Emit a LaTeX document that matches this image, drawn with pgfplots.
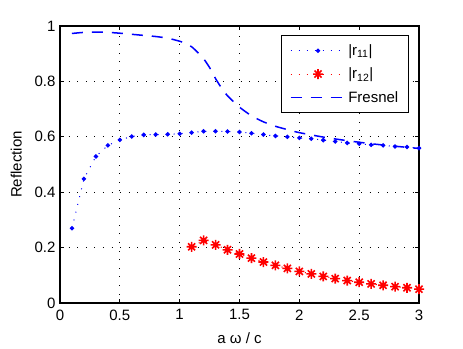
\documentclass[border=0pt]{standalone}
\usepackage{fontspec}
\setmainfont{Liberation Sans}
\usepackage{pgfplots}
\pgfplotsset{compat=1.18}

% MATLAB-style '*' marker: a plus and a cross on top of each other
\pgfdeclareplotmark{mstar}{%
  \pgfpathmoveto{\pgfqpoint{-\pgfplotmarksize}{0pt}}%
  \pgfpathlineto{\pgfqpoint{\pgfplotmarksize}{0pt}}%
  \pgfpathmoveto{\pgfqpoint{0pt}{-\pgfplotmarksize}}%
  \pgfpathlineto{\pgfqpoint{0pt}{\pgfplotmarksize}}%
  \pgfpathmoveto{\pgfqpoint{-0.707\pgfplotmarksize}{-0.707\pgfplotmarksize}}%
  \pgfpathlineto{\pgfqpoint{0.707\pgfplotmarksize}{0.707\pgfplotmarksize}}%
  \pgfpathmoveto{\pgfqpoint{-0.707\pgfplotmarksize}{0.707\pgfplotmarksize}}%
  \pgfpathlineto{\pgfqpoint{0.707\pgfplotmarksize}{-0.707\pgfplotmarksize}}%
  \pgfusepathqstroke}

\begin{document}
\begin{tikzpicture}
\begin{axis}[
    scale only axis,
    width=359pt, height=277pt,
    xmin=0, xmax=3, ymin=0, ymax=1,
    xtick={0,0.5,1,1.5,2,2.5,3},
    xticklabels={0,0.5,1,1.5,2,2.5,3},
    ytick={0,0.2,0.4,0.6,0.8,1},
    yticklabels={0,0.2,0.4,0.6,0.8,1},
    font=\fontsize{15}{17}\selectfont,
    xlabel={a ω / c},
    ylabel={Reflection},
    xlabel style={at={(axis description cs:0.5,-0.126)}, anchor=center},
    ylabel style={at={(axis description cs:-0.122,0.5)}, anchor=center},
    xticklabel style={yshift=-3pt},
    yticklabel style={xshift=-1pt},
    tick align=inside,
    major tick length=4pt,
    tick style={black, line width=0.7pt},
    axis line style={line width=1.3pt},
    grid=major,
    major grid style={black, line width=0.8pt, dash pattern=on 0.8pt off 7.8pt},
    legend cell align=left,
    legend style={at={(0.972,0.968)}, anchor=north east, draw=black,
        line width=1.3pt, font=\fontsize{15}{17}\selectfont,
        row sep=7pt, inner xsep=8pt, inner ysep=7pt},
    legend image code/.code={%
        \draw[mark repeat=2,mark phase=2,#1]
            plot coordinates {(0pt,0pt) (27.5pt,0pt) (55pt,0pt)};},
]

% |r11|
\addplot[blue, line width=1pt, dash pattern=on 1pt off 7pt,
    mark=*, mark size=1.7pt, mark options={solid, fill=blue}] coordinates {
    (0.1,0.270) (0.2,0.448) (0.3,0.529) (0.4,0.569) (0.5,0.589)
    (0.6,0.601) (0.7,0.607) (0.8,0.608) (0.9,0.609) (1.0,0.611)
    (1.1,0.615) (1.2,0.620) (1.3,0.620) (1.4,0.619) (1.5,0.617)
    (1.6,0.613) (1.7,0.608) (1.8,0.603) (1.9,0.600) (2.0,0.596)
    (2.1,0.593) (2.2,0.588) (2.3,0.583) (2.4,0.578) (2.5,0.575)
    (2.6,0.571) (2.7,0.569) (2.8,0.565) (2.9,0.563) (3.0,0.559)};
\addlegendentry{|r\textsubscript{11}|}

% |r12|
\addplot[red, line width=1pt, dash pattern=on 1pt off 7pt,
    mark=mstar, mark size=5pt, mark options={solid, line width=1.6pt}] coordinates {
    (1.1,0.203) (1.2,0.226) (1.3,0.210) (1.4,0.192) (1.5,0.177)
    (1.6,0.162) (1.7,0.148) (1.8,0.136) (1.9,0.125) (2.0,0.114)
    (2.1,0.105) (2.2,0.096) (2.3,0.088) (2.4,0.081) (2.5,0.075)
    (2.6,0.069) (2.7,0.064) (2.8,0.059) (2.9,0.055) (3.0,0.050)};
\addlegendentry{|r\textsubscript{12}|}

% Fresnel
\addplot[blue, line width=1.5pt, dash pattern=on 11pt off 9pt, smooth, tension=0.4] coordinates {
    (0.1,0.973) (0.2,0.977) (0.3,0.978) (0.4,0.977) (0.5,0.974)
    (0.6,0.970) (0.7,0.966) (0.8,0.962) (0.9,0.956) (1.0,0.945)
    (1.05,0.937) (1.1,0.925) (1.15,0.905) (1.2,0.882) (1.25,0.850)
    (1.3,0.810) (1.35,0.776) (1.4,0.748) (1.5,0.707) (1.6,0.676)
    (1.7,0.654) (1.8,0.638) (1.9,0.626) (2.0,0.615) (2.2,0.599)
    (2.4,0.586) (2.6,0.575) (2.8,0.566) (3.0,0.558)};
\addlegendentry{Fresnel}

\end{axis}
% fix the page to the reference's margins round the axis
\path ([xshift=-60pt,yshift=-45pt]current axis.south west)
    rectangle ([xshift=44pt,yshift=26pt]current axis.north east);
\end{tikzpicture}
\end{document}
